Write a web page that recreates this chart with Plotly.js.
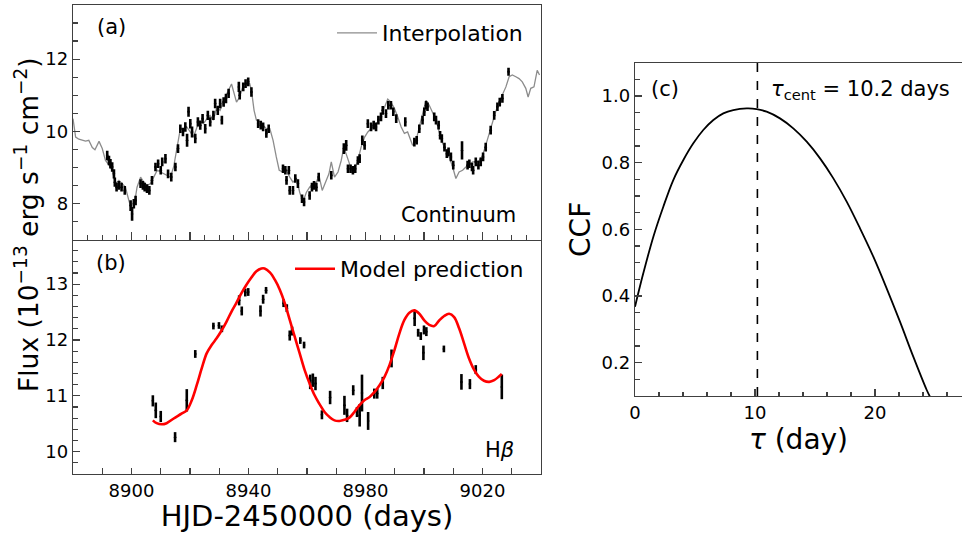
<!DOCTYPE html>
<html>
<head>
<meta charset="utf-8">
<script src="https://cdn.plot.ly/plotly-3.0.1.min.js"></script>
<style>html,body{margin:0;padding:0;background:#fff;}#chart{width:962px;height:533px;}</style>
</head>
<body>
<div id="chart"></div>
<script>
// ---------- Panel (a): continuum ----------
const contDay = [8891.7,8892.3,8892.8,8893.4,8894.0,8894.3,8894.9,8895.7,8896.6,8897.7,8899.7,8900.2,8900.8,8901.4,8903.1,8903.9,8904.5,8905.3,8906.1,8907.0,8908.2,8909.1,8910.0,8910.5,8911.6,8912.5,8913.6,8915.0,8915.9,8916.7,8917.6,8918.4,8919.0,8919.5,8920.1,8920.7,8921.8,8922.7,8923.5,8924.3,8925.2,8926.1,8926.9,8928.0,8928.6,8929.5,8930.3,8930.9,8931.5,8932.3,8933.2,8936.7,8937.0,8938.2,8939.0,8939.9,8941.0,8943.3,8944.2,8945.0,8946.1,8946.9,8951.8,8952.6,8953.0,8953.8,8954.1,8955.2,8956.0,8956.9,8958.3,8959.0,8960.9,8961.7,8962.4,8963.2,8964.0,8968.3,8972.6,8973.4,8974.0,8974.9,8975.7,8976.5,8977.4,8978.0,8978.9,8979.7,8980.8,8981.9,8982.8,8983.6,8984.4,8985.3,8985.9,8987.0,8987.8,8988.7,8989.5,8990.5,8993.6,8996.7,8997.5,8998.4,8999.5,9000.1,9000.7,9001.2,9003.5,9004.1,9005.0,9005.5,9006.1,9007.0,9007.8,9008.4,9009.2,9010.0,9013.0,9014.9,9015.5,9016.4,9016.8,9017.7,9018.6,9019.4,9020.2,9021.1,9022.8,9024.0,9025.1,9025.9,9026.8,9028.9];
const contFlux = [9.33,9.19,9.10,9.01,8.82,8.59,8.45,8.50,8.45,8.36,7.94,7.71,7.99,8.08,8.55,8.50,8.45,8.41,8.36,8.64,9.01,9.10,8.92,9.15,9.24,8.82,8.73,9.01,9.52,10.07,9.98,10.12,9.75,10.54,10.21,9.98,9.80,10.26,10.17,10.35,10.07,10.44,10.26,10.44,10.77,10.58,10.77,10.31,10.81,10.91,11.05,11.23,11.00,11.23,11.32,11.37,11.09,10.21,10.17,10.12,9.94,10.07,8.96,8.92,8.64,8.92,8.36,8.36,8.69,8.55,8.13,8.04,8.22,8.45,8.50,8.45,8.73,8.78,9.52,9.61,8.96,8.96,8.92,8.96,9.19,9.24,9.75,9.61,10.21,10.12,10.17,10.12,10.31,10.40,10.58,10.49,10.72,10.72,10.54,10.35,10.26,9.70,9.75,10.07,10.31,10.54,10.72,10.68,10.40,10.31,10.17,9.89,9.80,9.56,9.38,9.43,9.29,9.06,9.47,9.06,9.10,9.01,8.92,9.15,9.06,9.15,9.29,9.56,10.03,10.44,10.68,10.81,10.91,11.65];
const contErr = [0.13,0.13,0.13,0.13,0.13,0.13,0.12,0.12,0.12,0.12,0.15,0.19,0.13,0.13,0.12,0.12,0.12,0.12,0.12,0.12,0.12,0.12,0.12,0.12,0.13,0.12,0.12,0.12,0.12,0.12,0.12,0.13,0.18,0.14,0.13,0.15,0.13,0.13,0.13,0.13,0.13,0.13,0.13,0.13,0.13,0.13,0.13,0.12,0.13,0.13,0.13,0.14,0.12,0.12,0.12,0.12,0.13,0.12,0.12,0.12,0.12,0.12,0.12,0.12,0.12,0.12,0.12,0.12,0.12,0.12,0.12,0.12,0.12,0.12,0.12,0.12,0.12,0.12,0.15,0.15,0.12,0.12,0.12,0.12,0.12,0.12,0.13,0.12,0.12,0.12,0.12,0.12,0.12,0.12,0.12,0.12,0.12,0.12,0.12,0.12,0.13,0.12,0.12,0.12,0.12,0.12,0.12,0.12,0.12,0.12,0.12,0.12,0.12,0.12,0.12,0.12,0.12,0.12,0.25,0.12,0.12,0.12,0.12,0.12,0.12,0.12,0.12,0.12,0.12,0.12,0.12,0.12,0.12,0.11];

const interpDay = [8880,8880.9,8882,8884.3,8885.4,8886.6,8887.5,8888.9,8890,8891.1,8892.3,8893.4,8894.5,8895.7,8896.8,8897.9,8899.1,8900,8900.8,8901.9,8903.1,8904.2,8905.4,8906.5,8907.6,8908.8,8909.9,8911,8912.1,8913.3,8914.4,8915.5,8916.7,8917.8,8918.9,8920.1,8921.2,8922.4,8923.5,8924.6,8925.8,8926.9,8928,8929.2,8930.3,8931.5,8932.6,8934.2,8935.9,8937,8938.2,8939.3,8940.4,8941,8941.9,8942.7,8943.9,8945,8946.1,8947.3,8948.4,8949.5,8950.5,8951.8,8952.9,8954.1,8955.2,8956.4,8957.5,8958.6,8959.8,8960.9,8962,8963.2,8964.1,8965.2,8966.4,8967.5,8968.3,8969.4,8970.6,8971.7,8972.6,8973.7,8974.9,8976.2,8977.4,8978.5,8979.7,8980.8,8981.9,8983.1,8984.2,8985.9,8987.6,8988.7,8989.9,8991,8992.2,8993.3,8994.4,8996.1,8997.3,8998.4,8999.5,9000.7,9001.8,9003,9004.1,9005.2,9006.4,9007.5,9008.6,9009.8,9010.9,9012,9013.2,9014.3,9015.5,9016.6,9017.7,9018.9,9020,9021.1,9022.3,9023.4,9024.5,9025.7,9026.8,9028,9029.1,9030.2,9031.4,9032.5,9033.6,9034.8,9035.6,9036.5,9037.6,9038.7,9039.5];
const interpFlux = [10.35,9.84,9.78,9.73,9.75,9.55,9.49,9.72,9.52,9.19,9.06,8.92,8.55,8.64,8.55,8.45,8.08,7.85,7.90,8.45,8.73,8.59,8.50,8.55,8.73,8.92,8.87,8.82,8.78,8.73,9.01,9.47,10.07,10.03,10.12,9.98,9.84,10.12,10.26,10.21,10.35,10.44,10.31,10.68,10.58,10.86,11.05,11.31,10.81,10.95,11.28,11.34,11.32,11.14,10.58,10.31,10.26,10.17,10.07,10.07,9.75,9.29,8.92,8.87,8.92,8.73,8.59,8.69,8.31,8.04,8.31,8.45,8.55,8.59,8.78,8.36,8.59,8.82,9.15,8.73,8.87,9.19,9.56,9.29,9.01,8.96,9.19,9.56,9.84,9.98,10.07,10.17,10.26,10.54,10.89,10.81,10.63,10.40,10.12,9.94,9.98,9.61,9.75,10.12,10.44,10.86,10.72,10.49,10.31,9.98,9.66,9.47,9.29,9.01,8.69,8.87,8.92,9.01,9.06,9.15,9.15,9.19,9.33,9.61,9.94,10.26,10.54,10.81,11.00,11.23,11.51,11.56,11.51,11.46,11.37,11.19,10.95,11.19,11.23,11.69,11.56];

// ---------- Panel (b): H-beta ----------
const hbDay = [8907.3,8908.3,8910.0,8914.9,8918.9,8921.8,8928.0,8929.9,8930.9,8936.8,8937.7,8938.9,8939.9,8944.1,8945.0,8946.0,8952.0,8953.1,8954.1,8954.9,8957.7,8959.0,8961.1,8962.0,8962.9,8965.1,8967.9,8972.8,8973.7,8975.8,8977.1,8978.0,8978.8,8980.9,8983.0,8984.0,8985.9,8988.9,8996.8,8998.0,8998.9,8999.8,9000.0,9000.8,9006.8,9012.8,9015.7,9017.7,9026.6];
const hbFlux = [10.91,10.74,10.63,10.26,10.92,11.75,12.25,12.26,12.20,12.71,12.52,12.85,12.86,12.52,12.73,12.89,12.66,12.57,12.08,12.16,11.99,11.91,11.25,11.28,11.22,10.66,10.97,10.83,10.65,11.10,10.71,10.65,11.05,10.55,11.04,11.04,11.23,11.67,12.39,12.13,12.07,11.77,12.18,12.15,11.84,11.25,11.21,11.47,11.16];
const hbErr = [0.10,0.14,0.10,0.09,0.20,0.07,0.06,0.06,0.06,0.09,0.08,0.07,0.07,0.10,0.08,0.06,0.07,0.07,0.09,0.08,0.06,0.06,0.13,0.12,0.12,0.08,0.12,0.17,0.12,0.09,0.09,0.20,0.33,0.16,0.09,0.09,0.11,0.16,0.14,0.07,0.07,0.13,0.08,0.08,0.06,0.14,0.09,0.08,0.22];

const modelDay = [8907.3,8908.6,8910.3,8912,8914.3,8917.1,8918.9,8920.6,8922.3,8924,8925.7,8927.4,8929.1,8930.8,8932.5,8934.2,8935.9,8937.6,8939.3,8941,8942.7,8944.4,8945.5,8947.3,8949,8950.7,8952.4,8954.1,8955.8,8957.5,8959.2,8960.9,8962.6,8964.3,8966,8967.7,8969.4,8971.1,8972.8,8974.5,8976.2,8977.9,8979.6,8981.4,8983.1,8984.8,8986.5,8988.2,8989.9,8991.6,8993.3,8995,8996.7,8998.4,9000.1,9001.8,9003.5,9005.2,9006.9,9008.6,9010.3,9012,9013.7,9015.4,9017.1,9018.8,9020.5,9022.3,9024,9025.7,9026.6];
const modelFlux = [10.56,10.51,10.49,10.51,10.59,10.68,10.74,10.92,11.19,11.49,11.76,11.91,12.03,12.17,12.33,12.51,12.67,12.84,12.99,13.12,13.23,13.28,13.28,13.21,13.08,12.90,12.66,12.36,12.06,11.76,11.46,11.22,11.01,10.85,10.71,10.62,10.56,10.55,10.57,10.61,10.71,10.83,10.92,10.98,11.07,11.19,11.34,11.55,11.82,12.12,12.36,12.49,12.53,12.47,12.35,12.27,12.25,12.35,12.43,12.47,12.41,12.21,11.94,11.67,11.47,11.34,11.27,11.25,11.28,11.35,11.39];

// ---------- Panel (c): CCF ----------
const ccfLag = [0,0.69,1.53,2.36,3.19,4.03,4.86,5.69,6.53,7.36,8.19,9.31,10.14,10.97,12.08,13.19,14.31,15.42,16.53,17.64,18.75,19.86,20.97,22.08,23.19,24.31,24.58];
const ccfValue = [0.368,0.468,0.578,0.668,0.748,0.808,0.858,0.898,0.928,0.948,0.958,0.963,0.961,0.953,0.933,0.903,0.863,0.813,0.753,0.683,0.603,0.518,0.423,0.323,0.218,0.118,0.098];
const tauCent = 10.2;

// tick labels
const xTickLabelsB = ['8900','8940','8980','9020'];
const yTickLabelsA = ['8','10','12'];
const yTickLabelsB = ['10','11','12','13'];
const xTickLabelsC = ['0','10','20'];
const yTickLabelsC = ['0.2','0.4','0.6','0.8','1.0'];

// ---------- layout helpers (pixel -> paper within plot area) ----------
const W = 962, H = 533, ML = 73, MR = 0, MT = 5, MB = 59;
const PW = W - ML - MR, PH = H - MT - MB;
const px = x => (x - ML) / PW;
const py = y => (H - MB - y) / PH;

const FONT = 'DejaVu Sans';
const AX = '#404040';

const traces = [
  {x: interpDay, y: interpFlux, xaxis: 'x', yaxis: 'y', mode: 'lines', name: 'Interpolation',
   line: {color: '#8c8c8c', width: 1.3}, legend: 'legend', showlegend: true, hoverinfo: 'skip'},
  {x: contDay, y: contFlux, xaxis: 'x', yaxis: 'y', mode: 'markers', name: 'Continuum data',
   marker: {color: 'black', size: 2.5},
   error_y: {type: 'data', array: contErr, visible: true, color: 'black', thickness: 2.6, width: 0},
   showlegend: false},
  {x: hbDay, y: hbFlux, xaxis: 'x2', yaxis: 'y2', mode: 'markers', name: 'Hβ data',
   marker: {color: 'black', size: 2.5},
   error_y: {type: 'data', array: hbErr, visible: true, color: 'black', thickness: 2.6, width: 0},
   showlegend: false},
  {x: modelDay, y: modelFlux, xaxis: 'x2', yaxis: 'y2', mode: 'lines', name: 'Model prediction',
   line: {color: '#ff0000', width: 2.6, shape: 'spline'}, legend: 'legend2', showlegend: true},
  {x: ccfLag, y: ccfValue, xaxis: 'x3', yaxis: 'y3', mode: 'lines', name: 'CCF',
   line: {color: 'black', width: 1.8, shape: 'spline'}, showlegend: false},
  {x: [tauCent, tauCent], y: [0.1, 1.1], xaxis: 'x3', yaxis: 'y3', mode: 'lines', name: 'τcent',
   line: {color: 'black', width: 1.6, dash: 'dash'}, showlegend: false}
];

const baseAxis = {
  showline: true, linecolor: AX, linewidth: 1.2, mirror: true, ticks: 'inside',
  tickcolor: AX, tickwidth: 1.2, showgrid: false, zeroline: false,
  tickfont: {family: FONT, size: 18, color: 'black'}
};

const layout = {
  width: W, height: H,
  margin: {l: ML, r: MR, t: MT, b: MB},
  paper_bgcolor: 'white', plot_bgcolor: 'white',
  font: {family: FONT, size: 18, color: 'black'},
  xaxis: Object.assign({}, baseAxis, {
    domain: [0, px(541)], range: [8880, 9040], anchor: 'y',
    tickmode: 'linear', tick0: 8880, dtick: 20, ticklen: 8, showticklabels: false,
    minor: {ticks: 'inside', dtick: 5, tick0: 8880, ticklen: 5, tickcolor: AX, tickwidth: 1.2}
  }),
  yaxis: Object.assign({}, baseAxis, {
    domain: [py(239.5), 1], range: [7.0, 13.5], anchor: 'x',
    tickmode: 'array', tickvals: yTickLabelsA.map(Number), ticktext: yTickLabelsA, ticklen: 7,
    minor: {ticks: 'inside', dtick: 0.5, tick0: 7, ticklen: 4.5, tickcolor: AX, tickwidth: 1.2}
  }),
  xaxis2: Object.assign({}, baseAxis, {
    domain: [0, px(541)], range: [8880, 9040], anchor: 'y2', mirror: false,
    tickmode: 'array', tickvals: xTickLabelsB.map(Number), ticktext: xTickLabelsB, ticklen: 6,
    minor: {ticks: 'inside', dtick: 10, tick0: 8880, ticklen: 6, tickcolor: AX, tickwidth: 1.2},
    title: {text: 'HJD-2450000 (days)', font: {family: FONT, size: 29, color: 'black'}, standoff: 4}
  }),
  yaxis2: Object.assign({}, baseAxis, {
    domain: [0, py(239.5)], range: [9.6, 13.8], anchor: 'x2',
    tickmode: 'array', tickvals: yTickLabelsB.map(Number), ticktext: yTickLabelsB, ticklen: 7,
    minor: {ticks: 'inside', dtick: 0.2, tick0: 9.6, ticklen: 4.5, tickcolor: AX, tickwidth: 1.2}
  }),
  xaxis3: Object.assign({}, baseAxis, {
    domain: [px(635), 1], range: [0, 27.25], anchor: 'y3',
    tickmode: 'array', tickvals: xTickLabelsC.map(Number), ticktext: xTickLabelsC, ticklen: 7,
    minor: {ticks: 'inside', dtick: 2, tick0: 0, ticklen: 4.5, tickcolor: AX, tickwidth: 1.2},
    title: {text: '<i>τ</i> (day)', font: {family: FONT, size: 28, color: 'black'}, standoff: 6}
  }),
  yaxis3: Object.assign({}, baseAxis, {
    domain: [py(396), py(62.7)], range: [0.1, 1.1], anchor: 'x3',
    tickmode: 'array', tickvals: yTickLabelsC.map(Number), ticktext: yTickLabelsC, ticklen: 7,
    minor: {ticks: 'inside', dtick: 0.05, tick0: 0.1, ticklen: 4.5, tickcolor: AX, tickwidth: 1.2},
    title: {text: 'CCF', font: {family: FONT, size: 28, color: 'black'}, standoff: 2}
  }),
  legend: {x: px(332), y: py(12), xanchor: 'left', yanchor: 'top', bgcolor: 'rgba(0,0,0,0)',
           font: {family: FONT, size: 22, color: 'black'}, itemwidth: 40},
  legend2: {x: px(290), y: py(248), xanchor: 'left', yanchor: 'top', bgcolor: 'rgba(0,0,0,0)',
            font: {family: FONT, size: 22, color: 'black'}, itemwidth: 40},
  annotations: [
    {text: 'Flux (10<sup>−13</sup> erg s<sup>−1</sup> cm<sup>−2</sup>)', textangle: -90,
     xref: 'paper', yref: 'paper', x: px(27), y: py(225), xanchor: 'center', yanchor: 'middle',
     showarrow: false, font: {family: FONT, size: 26.5, color: 'black'}},
    {text: '(a)', xref: 'paper', yref: 'paper', x: px(111), y: py(27), showarrow: false,
     xanchor: 'center', yanchor: 'middle', font: {family: FONT, size: 21, color: 'black'}},
    {text: '(b)', xref: 'paper', yref: 'paper', x: px(111), y: py(263), showarrow: false,
     xanchor: 'center', yanchor: 'middle', font: {family: FONT, size: 21, color: 'black'}},
    {text: '(c)', xref: 'paper', yref: 'paper', x: px(665), y: py(89), showarrow: false,
     xanchor: 'center', yanchor: 'middle', font: {family: FONT, size: 21, color: 'black'}},
    {text: 'Continuum', xref: 'paper', yref: 'paper', x: px(518), y: py(215), showarrow: false,
     xanchor: 'right', yanchor: 'middle', font: {family: FONT, size: 21, color: 'black'}},
    {text: 'H<i>β</i>', xref: 'paper', yref: 'paper', x: px(516), y: py(450), showarrow: false,
     xanchor: 'right', yanchor: 'middle', font: {family: FONT, size: 21, color: 'black'}},
    {text: '<i>τ</i><sub>cent</sub> = 10.2 days', xref: 'paper', yref: 'paper', x: px(769), y: py(90),
     showarrow: false, xanchor: 'left', yanchor: 'middle', font: {family: FONT, size: 21, color: 'black'}}
  ]
};

Plotly.newPlot('chart', traces, layout, {staticPlot: true, displayModeBar: false});
</script>
</body>
</html>
